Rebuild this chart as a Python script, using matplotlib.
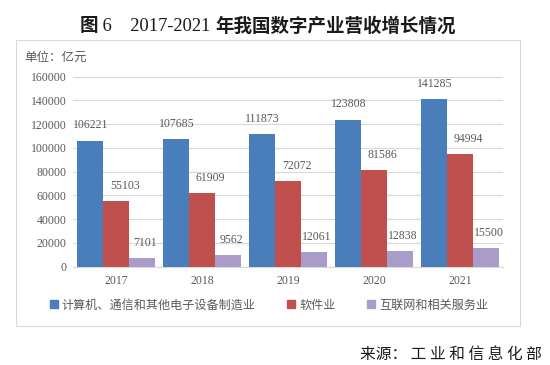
import matplotlib
matplotlib.use("Agg")
import matplotlib.pyplot as plt
import numpy as np
from matplotlib.patches import Rectangle
from matplotlib.lines import Line2D
from matplotlib.offsetbox import TextArea, HPacker, AnchoredOffsetbox

years = ["2017", "2018", "2019", "2020", "2021"]
series_names = ["计算机、通信和其他电子设备制造业", "软件业", "互联网和相关服务业"]
electronics = [106221, 107685, 111873, 123808, 141285]
software = [55103, 61909, 72072, 81586, 94994]
internet = [7101, 9562, 12061, 12838, 15500]
yticks = [0, 20000, 40000, 60000, 80000, 100000, 120000, 140000, 160000]

colors = ["#4A7EBB", "#C0504D", "#A99CC8"]
label_dx = [0, 6, 2]
serif = ["Liberation Serif", "Noto Sans CJK SC"]
cjk = ["Noto Sans CJK SC", "DejaVu Sans"]
gray = "#595959"

fig = plt.figure(figsize=(5.5, 3.65), dpi=100)
fig.patch.set_facecolor("white")

# outer chart box
fig.patches.append(Rectangle((0.0285, 0.1068), 0.917, 0.7836, transform=fig.transFigure,
                             fill=False, edgecolor="#D9D9D9", linewidth=0.8))

ax = fig.add_axes([0.1333, 0.2693, 0.7818, 0.5206])
x = np.arange(len(years))
w = 0.3023
data = [electronics, software, internet]
for i, (vals, c) in enumerate(zip(data, colors)):
    xs = x + (i - 1) * w
    ax.bar(xs, vals, width=w, color=c, zorder=3)
    for xi, v in zip(xs, vals):
        ax.annotate(str(v), (xi, v), xytext=(label_dx[i], 11), textcoords="offset points",
                    ha="center", va="center", fontsize=8.5, color=gray, family=serif)

ax.set_xlim(-0.5, len(years) - 0.5)
ax.set_ylim(0, 160000)
ax.set_yticks(yticks)
ax.set_yticklabels([str(t) for t in yticks], family=serif, fontsize=8.5, color=gray)
ax.set_xticks(x)
ax.set_xticklabels(years, family=serif, fontsize=8.5, color=gray)
ax.tick_params(axis="both", length=0)
ax.tick_params(axis="y", pad=5)
ax.tick_params(axis="x", pad=6)
ax.grid(axis="y", color="#D9D9D9", linewidth=0.8, zorder=0)
for s in ["top", "right", "left"]:
    ax.spines[s].set_visible(False)
ax.spines["bottom"].set_color("#D9D9D9")
ax.spines["bottom"].set_linewidth(0.8)
ax.set_facecolor("none")

handles = [Line2D([], [], marker="s", linestyle="none", markersize=6,
                  markerfacecolor=c, markeredgecolor=c) for c in colors]
leg = fig.legend(handles, series_names, loc="center left", bbox_to_anchor=(0.09, 0.1644),
                 ncol=3, frameon=False, handlelength=0.7, handletextpad=0.3,
                 columnspacing=2.6, borderaxespad=0, borderpad=0,
                 prop={"family": cjk, "size": 8.7})
for t in leg.get_texts():
    t.set_color(gray)

# title: bold CJK, regular serif digits
tsize = 13.3
tcol = "#1a1a1a"
parts = [
    TextArea("图", textprops=dict(family=cjk, fontweight="bold", fontsize=tsize, color=tcol)),
    TextArea(" 6　2017-2021 ", textprops=dict(family=serif, fontsize=tsize, color=tcol)),
    TextArea("年我国数字产业营收增长情况", textprops=dict(family=cjk, fontweight="bold", fontsize=tsize, color=tcol)),
]
title = HPacker(children=parts, align="baseline", pad=0, sep=0)
anchored = AnchoredOffsetbox(loc="center", child=title, pad=0, borderpad=0, frameon=False,
                             bbox_to_anchor=(0.487, 0.9288), bbox_transform=fig.transFigure)
fig.add_artist(anchored)

fig.text(24 / 550, 1 - 57 / 365, "单位：亿元", ha="left", va="center",
         fontsize=9, family=cjk, color=gray)
fig.text(542 / 550, 1 - 354 / 365, "来源： 工 业 和 信 息 化 部", ha="right", va="center",
         fontsize=11.3, family=cjk, color="#1a1a1a")

fig.savefig("out.png", dpi=100)
